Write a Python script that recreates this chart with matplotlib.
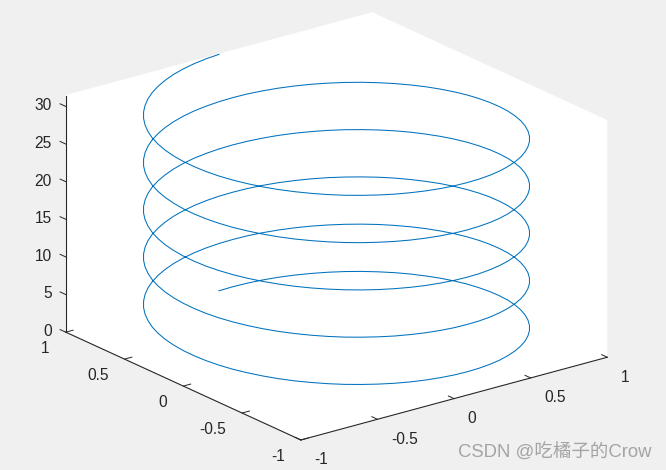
import matplotlib
matplotlib.use('Agg')
import matplotlib.pyplot as plt

plt.rcParams['font.family'] = ['Liberation Sans', 'Noto Sans CJK SC']

# helix points, 72 per turn (one row = half a turn)
sin_vals = [
    0, .087, .174, .259, .342, .423, .5, .574, .643, .707, .766, .819, .866, .906, .94, .966, .985, .996, 1, .996, .985, .966, .94, .906, .866, .819, .766, .707, .643, .574, .5, .423, .342, .259, .174, .087,
    0, -.087, -.174, -.259, -.342, -.423, -.5, -.574, -.643, -.707, -.766, -.819, -.866, -.906, -.94, -.966, -.985, -.996, -1, -.996, -.985, -.966, -.94, -.906, -.866, -.819, -.766, -.707, -.643, -.574, -.5, -.423, -.342, -.259, -.174, -.087,
    0, .087, .174, .259, .342, .423, .5, .574, .643, .707, .766, .819, .866, .906, .94, .966, .985, .996, 1, .996, .985, .966, .94, .906, .866, .819, .766, .707, .643, .574, .5, .423, .342, .259, .174, .087,
    0, -.087, -.174, -.259, -.342, -.423, -.5, -.574, -.643, -.707, -.766, -.819, -.866, -.906, -.94, -.966, -.985, -.996, -1, -.996, -.985, -.966, -.94, -.906, -.866, -.819, -.766, -.707, -.643, -.574, -.5, -.423, -.342, -.259, -.174, -.087,
    0, .087, .174, .259, .342, .423, .5, .574, .643, .707, .766, .819, .866, .906, .94, .966, .985, .996, 1, .996, .985, .966, .94, .906, .866, .819, .766, .707, .643, .574, .5, .423, .342, .259, .174, .087,
    0, -.087, -.174, -.259, -.342, -.423, -.5, -.574, -.643, -.707, -.766, -.819, -.866, -.906, -.94, -.966, -.985, -.996, -1, -.996, -.985, -.966, -.94, -.906, -.866, -.819, -.766, -.707, -.643, -.574, -.5, -.423, -.342, -.259, -.174, -.087,
    0, .087, .174, .259, .342, .423, .5, .574, .643, .707, .766, .819, .866, .906, .94, .966, .985, .996, 1, .996, .985, .966, .94, .906, .866, .819, .766, .707, .643, .574, .5, .423, .342, .259, .174, .087,
    0, -.087, -.174, -.259, -.342, -.423, -.5, -.574, -.643, -.707, -.766, -.819, -.866, -.906, -.94, -.966, -.985, -.996, -1, -.996, -.985, -.966, -.94, -.906, -.866, -.819, -.766, -.707, -.643, -.574, -.5, -.423, -.342, -.259, -.174, -.087,
    0, .087, .174, .259, .342, .423, .5, .574, .643, .707, .766, .819, .866, .906, .94, .966, .985, .996, 1, .996, .985, .966, .94, .906, .866, .819, .766, .707, .643, .574, .5, .423, .342, .259, .174, .087,
    0, -.087, -.174, -.259, -.342, -.423, -.5, -.574, -.643, -.707, -.766, -.819, -.866, -.906, -.94, -.966, -.985, -.996, -1, -.996, -.985, -.966, -.94, -.906, -.866, -.819, -.766, -.707, -.643, -.574, -.5, -.423, -.342, -.259, -.174, -.087,
    0,
]
cos_vals = [
    1, .996, .985, .966, .94, .906, .866, .819, .766, .707, .643, .574, .5, .423, .342, .259, .174, .087, 0, -.087, -.174, -.259, -.342, -.423, -.5, -.574, -.643, -.707, -.766, -.819, -.866, -.906, -.94, -.966, -.985, -.996,
    -1, -.996, -.985, -.966, -.94, -.906, -.866, -.819, -.766, -.707, -.643, -.574, -.5, -.423, -.342, -.259, -.174, -.087, 0, .087, .174, .259, .342, .423, .5, .574, .643, .707, .766, .819, .866, .906, .94, .966, .985, .996,
    1, .996, .985, .966, .94, .906, .866, .819, .766, .707, .643, .574, .5, .423, .342, .259, .174, .087, 0, -.087, -.174, -.259, -.342, -.423, -.5, -.574, -.643, -.707, -.766, -.819, -.866, -.906, -.94, -.966, -.985, -.996,
    -1, -.996, -.985, -.966, -.94, -.906, -.866, -.819, -.766, -.707, -.643, -.574, -.5, -.423, -.342, -.259, -.174, -.087, 0, .087, .174, .259, .342, .423, .5, .574, .643, .707, .766, .819, .866, .906, .94, .966, .985, .996,
    1, .996, .985, .966, .94, .906, .866, .819, .766, .707, .643, .574, .5, .423, .342, .259, .174, .087, 0, -.087, -.174, -.259, -.342, -.423, -.5, -.574, -.643, -.707, -.766, -.819, -.866, -.906, -.94, -.966, -.985, -.996,
    -1, -.996, -.985, -.966, -.94, -.906, -.866, -.819, -.766, -.707, -.643, -.574, -.5, -.423, -.342, -.259, -.174, -.087, 0, .087, .174, .259, .342, .423, .5, .574, .643, .707, .766, .819, .866, .906, .94, .966, .985, .996,
    1, .996, .985, .966, .94, .906, .866, .819, .766, .707, .643, .574, .5, .423, .342, .259, .174, .087, 0, -.087, -.174, -.259, -.342, -.423, -.5, -.574, -.643, -.707, -.766, -.819, -.866, -.906, -.94, -.966, -.985, -.996,
    -1, -.996, -.985, -.966, -.94, -.906, -.866, -.819, -.766, -.707, -.643, -.574, -.5, -.423, -.342, -.259, -.174, -.087, 0, .087, .174, .259, .342, .423, .5, .574, .643, .707, .766, .819, .866, .906, .94, .966, .985, .996,
    1, .996, .985, .966, .94, .906, .866, .819, .766, .707, .643, .574, .5, .423, .342, .259, .174, .087, 0, -.087, -.174, -.259, -.342, -.423, -.5, -.574, -.643, -.707, -.766, -.819, -.866, -.906, -.94, -.966, -.985, -.996,
    -1, -.996, -.985, -.966, -.94, -.906, -.866, -.819, -.766, -.707, -.643, -.574, -.5, -.423, -.342, -.259, -.174, -.087, 0, .087, .174, .259, .342, .423, .5, .574, .643, .707, .766, .819, .866, .906, .94, .966, .985, .996,
    1,
]
height = [
    0, .09, .17, .26, .35, .44, .52, .61, .70, .79, .87, .96, 1.05, 1.13, 1.22, 1.31, 1.40, 1.48, 1.57, 1.66, 1.75, 1.83, 1.92, 2.01, 2.09, 2.18, 2.27, 2.36, 2.44, 2.53, 2.62, 2.71, 2.79, 2.88, 2.97, 3.05,
    3.14, 3.23, 3.32, 3.40, 3.49, 3.58, 3.67, 3.75, 3.84, 3.93, 4.01, 4.10, 4.19, 4.28, 4.36, 4.45, 4.54, 4.63, 4.71, 4.80, 4.89, 4.97, 5.06, 5.15, 5.24, 5.32, 5.41, 5.50, 5.59, 5.67, 5.76, 5.85, 5.93, 6.02, 6.11, 6.20,
    6.28, 6.37, 6.46, 6.54, 6.63, 6.72, 6.81, 6.89, 6.98, 7.07, 7.16, 7.24, 7.33, 7.42, 7.50, 7.59, 7.68, 7.77, 7.85, 7.94, 8.03, 8.12, 8.20, 8.29, 8.38, 8.46, 8.55, 8.64, 8.73, 8.81, 8.90, 8.99, 9.08, 9.16, 9.25, 9.34,
    9.42, 9.51, 9.60, 9.69, 9.77, 9.86, 9.95, 10.03, 10.12, 10.21, 10.30, 10.38, 10.47, 10.56, 10.65, 10.73, 10.82, 10.91, 11.00, 11.08, 11.17, 11.26, 11.34, 11.43, 11.52, 11.61, 11.69, 11.78, 11.87, 11.96, 12.04, 12.13, 12.22, 12.30, 12.39, 12.48,
    12.57, 12.65, 12.74, 12.83, 12.92, 13.00, 13.09, 13.18, 13.26, 13.35, 13.44, 13.53, 13.61, 13.70, 13.79, 13.87, 13.96, 14.05, 14.14, 14.22, 14.31, 14.40, 14.49, 14.57, 14.66, 14.75, 14.84, 14.92, 15.01, 15.10, 15.18, 15.27, 15.36, 15.45, 15.53, 15.62,
    15.71, 15.80, 15.88, 15.97, 16.06, 16.14, 16.23, 16.32, 16.41, 16.49, 16.58, 16.67, 16.76, 16.84, 16.93, 17.02, 17.10, 17.19, 17.28, 17.37, 17.45, 17.54, 17.63, 17.72, 17.80, 17.89, 17.98, 18.06, 18.15, 18.24, 18.33, 18.41, 18.50, 18.59, 18.68, 18.76,
    18.85, 18.94, 19.02, 19.11, 19.20, 19.29, 19.37, 19.46, 19.55, 19.63, 19.72, 19.81, 19.90, 19.98, 20.07, 20.16, 20.25, 20.33, 20.42, 20.51, 20.59, 20.68, 20.77, 20.86, 20.94, 21.03, 21.12, 21.21, 21.29, 21.38, 21.47, 21.55, 21.64, 21.73, 21.82, 21.90,
    21.99, 22.08, 22.17, 22.25, 22.34, 22.43, 22.51, 22.60, 22.69, 22.78, 22.86, 22.95, 23.04, 23.13, 23.21, 23.30, 23.39, 23.47, 23.56, 23.65, 23.74, 23.82, 23.91, 24.00, 24.09, 24.17, 24.26, 24.35, 24.43, 24.52, 24.61, 24.70, 24.78, 24.87, 24.96, 25.04,
    25.13, 25.22, 25.31, 25.39, 25.48, 25.57, 25.66, 25.74, 25.83, 25.92, 26.00, 26.09, 26.18, 26.27, 26.35, 26.44, 26.53, 26.62, 26.70, 26.79, 26.88, 26.96, 27.05, 27.14, 27.23, 27.31, 27.40, 27.49, 27.58, 27.66, 27.75, 27.84, 27.92, 28.01, 28.10, 28.19,
    28.27, 28.36, 28.45, 28.54, 28.62, 28.71, 28.80, 28.88, 28.97, 29.06, 29.15, 29.23, 29.32, 29.41, 29.50, 29.58, 29.67, 29.76, 29.85, 29.93, 30.02, 30.11, 30.19, 30.28, 30.37, 30.46, 30.54, 30.63, 30.72, 30.80, 30.89, 30.98, 31.07, 31.15, 31.24, 31.33,
    31.42,
]
xy_ticks = [-1, -0.5, 0, 0.5, 1]
xy_labels = ['-1', '-0.5', '0', '0.5', '1']
z_ticks = [0, 5, 10, 15, 20, 25, 30]

bg = '#f0f0f0'
dark = '#262626'

fig = plt.figure(figsize=(6.66, 4.7), dpi=100, facecolor=bg)
ax = fig.add_axes([100.3 / 666, 7.3 / 470, 460 / 666, 460 / 470], projection='3d', proj_type='ortho', facecolor=bg)
ax.view_init(elev=20.6, azim=-127.5)
ax.set_box_aspect((1, 1, 0.654), zoom=1.27)

ax.plot(sin_vals, cos_vals, height, color='#0072bd', lw=0.75)

ax.set_xlim(-1, 1, view_margin=0)
ax.set_ylim(-1, 1, view_margin=0)
ax.set_zlim(0, 31.42, view_margin=0)
ax.set_xticks(xy_ticks, xy_labels)
ax.set_yticks(xy_ticks, xy_labels)
ax.set_zticks(z_ticks)
ax.grid(False)

for axis in (ax.xaxis, ax.yaxis, ax.zaxis):
    axis.set_pane_color('white')
    axis.pane.set_edgecolor('white')
    axis.line.set_color(dark)
    axis.line.set_linewidth(0.8)
    axis._axinfo['tick']['inward_factor'] = 0
    axis._axinfo['tick']['outward_factor'] = 0.3
    axis._axinfo['tick']['linewidth'] = {True: 0.7, False: 0.7}
    axis._axinfo['tick']['color'] = dark
ax.zaxis._get_tickdir = lambda pos: 1

ax.tick_params(labelsize=11.2, labelcolor=dark, color=dark)
ax.tick_params(axis='x', pad=2)
ax.tick_params(axis='y', pad=1)
ax.tick_params(axis='z', pad=-3.5)

for lab in ax.get_xticklabels():
    lab.set_ha('left')
    lab.set_va('center')
for lab in ax.get_yticklabels():
    lab.set_ha('right')
    lab.set_va('center')
for lab in ax.get_zticklabels():
    lab.set_ha('right')
    lab.set_va('center')

fig.text(0.978, 0.017, 'CSDN @吃橘子的Crow', ha='right', va='bottom', fontsize=13.3, color='#a4a4a4')

fig.savefig('out.png', dpi=100, facecolor=bg)
